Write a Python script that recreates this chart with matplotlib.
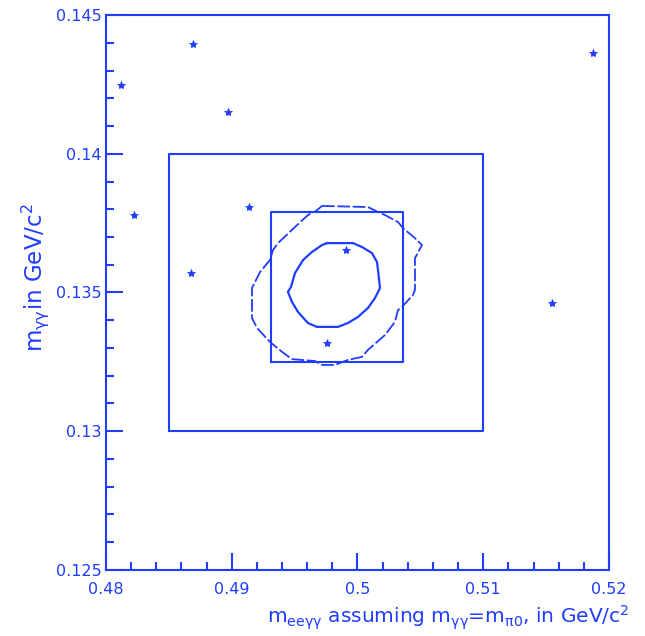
import matplotlib
matplotlib.use('Agg')
import matplotlib.pyplot as plt
from matplotlib.ticker import MultipleLocator

niebieski = '#1f3dff'

# zdarzenia (m_eegg, m_gg)
zdarzeniaX = [0.48122, 0.48689, 0.48968, 0.51875, 0.48223, 0.49137, 0.48676, 0.49909, 0.49760, 0.51547]
zdarzeniaY = [0.14247, 0.14395, 0.14152, 0.14362, 0.13779, 0.13807, 0.13570, 0.13653, 0.13319, 0.13462]

# okna sygnalu: (xmin, xmax, ymin, ymax)
oknoDuze = [0.485, 0.510, 0.130, 0.140]
oknoMale = [0.4931, 0.5036, 0.1325, 0.1379]

# kontur zewnetrzny MC
konturZewX = [0.49718, 0.50083, 0.50163, 0.50219, 0.50322, 0.50362, 0.50457, 0.50513, 0.50457, 0.50457,
              0.50441, 0.50354, 0.50322, 0.50298, 0.50219, 0.50083, 0.50036, 0.49924, 0.49821, 0.49718,
              0.49662, 0.49479, 0.49400, 0.49304, 0.49201, 0.49161, 0.49161, 0.49225, 0.49304, 0.49328,
              0.49368, 0.49503, 0.49606, 0.49670, 0.49718]
konturZewY = [0.13812, 0.13808, 0.13790, 0.13779, 0.13754, 0.13732, 0.13696, 0.13671, 0.13624, 0.13509,
              0.13491, 0.13448, 0.13437, 0.13394, 0.13347, 0.13293, 0.13268, 0.13257, 0.13239, 0.13239,
              0.13253, 0.13260, 0.13286, 0.13322, 0.13372, 0.13408, 0.13516, 0.13574, 0.13617, 0.13653,
              0.13678, 0.13736, 0.13779, 0.13794, 0.13812]

# kontur wewnetrzny MC
konturWewX = [0.49757, 0.49964, 0.50036, 0.50115, 0.50155, 0.50163, 0.50179, 0.50139, 0.50083, 0.50004,
              0.49924, 0.49845, 0.49678, 0.49606, 0.49527, 0.49479, 0.49447, 0.49471, 0.49503, 0.49567,
              0.49638, 0.49718, 0.49757]
konturWewY = [0.13678, 0.13678, 0.13664, 0.13642, 0.13610, 0.13581, 0.13516, 0.13480, 0.13444, 0.13412,
              0.13390, 0.13376, 0.13376, 0.13390, 0.13430, 0.13466, 0.13502, 0.13520, 0.13570, 0.13617,
              0.13646, 0.13671, 0.13678]

plt.rcParams['font.family'] = ['DejaVu Sans']
plt.rcParams['mathtext.fontset'] = 'dejavusans'
plt.rcParams['mathtext.default'] = 'regular'

fig = plt.figure(figsize=(6.45, 6.36), dpi=100)
ax = fig.add_axes([0.1643, 0.1038, 0.7799, 0.8726])


def prostokat(okno):
    x0, x1, y0, y1 = okno
    ax.plot([x0, x1, x1, x0, x0], [y0, y0, y1, y1, y0], color=niebieski, lw=1.5)


prostokat(oknoDuze)
prostokat(oknoMale)
ax.plot(konturZewX, konturZewY, color=niebieski, lw=1.3, linestyle=(0, (7, 1.5)))
ax.plot(konturWewX, konturWewY, color=niebieski, lw=1.6)
ax.plot(zdarzeniaX, zdarzeniaY, linestyle='none', marker='*', markersize=6,
        color=niebieski, markeredgewidth=0.6)

ax.set_xlim(0.48, 0.52)
ax.set_ylim(0.125, 0.145)
ax.set_xticks([0.48, 0.49, 0.50, 0.51, 0.52])
ax.set_xticklabels(['0.48', '0.49', '0.5', '0.51', '0.52'])
ax.set_yticks([0.125, 0.13, 0.135, 0.14, 0.145])
ax.set_yticklabels(['0.125', '0.13', '0.135', '0.14', '0.145'])
ax.xaxis.set_minor_locator(MultipleLocator(0.002))
ax.yaxis.set_minor_locator(MultipleLocator(0.001))

for s in ax.spines.values():
    s.set_color(niebieski)
    s.set_linewidth(1.5)

ax.tick_params(which='both', direction='in', color=niebieski, labelcolor=niebieski,
               top=False, right=False, width=1.5, labelsize=11.5)
ax.tick_params(which='major', length=12)
ax.tick_params(which='minor', length=6)
ax.tick_params(axis='x', which='major', pad=9)
ax.tick_params(axis='y', which='major', pad=3)

ax.set_xlabel(r'm$_{ee\gamma\gamma}$ assuming m$_{\gamma\gamma}$=m$_{\pi0}$, in GeV/c$^2$',
              color=niebieski, fontsize=14.5, loc='right')
ax.xaxis.set_label_coords(1.04, -0.06)
ax.set_ylabel(r'm$_{\gamma\gamma}$in GeV/c$^2$', color=niebieski, fontsize=16.5)
ax.yaxis.set_label_coords(-0.11, 0.526)

fig.savefig('out.png', dpi=100)
